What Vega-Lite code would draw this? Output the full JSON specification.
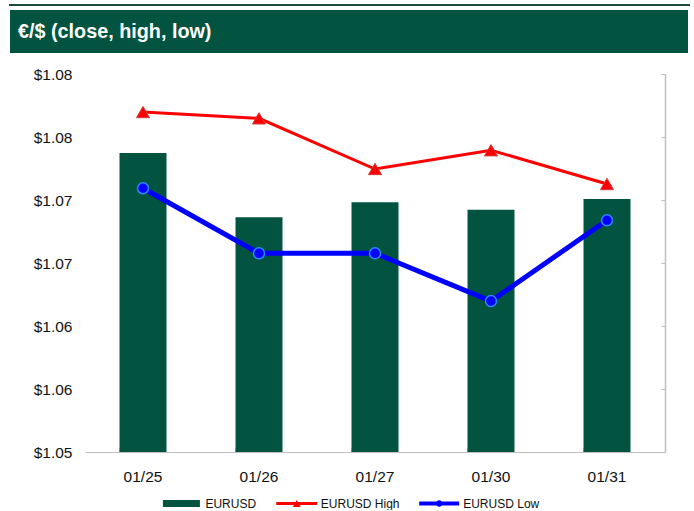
{
  "$schema": "https://vega.github.io/schema/vega-lite/v6.json",
  "background": "white",
  "padding": {"left": 9, "top": 4, "right": 0, "bottom": 0},
  "config": {"view": {"stroke": null}, "font": "Liberation Sans", "axis": {"grid": false}},
  "spacing": 14,
  "vconcat": [
    {
      "width": 603, "height": 49,
      "data": {"values": [{"title": "€/$ (close, high, low)"}]},
      "encoding": {
        "x": {"datum": -75, "type": "quantitative", "scale": {"domain": [0, 603], "nice": false, "zero": false}, "axis": null},
        "y": {"datum": 6, "type": "quantitative", "scale": {"domain": [49, 0], "nice": false, "zero": false}, "axis": null}
      },
      "layer": [
        {
          "mark": {"type": "rect", "color": "#1d4b3b"},
          "encoding": {"x": {"datum": -76}, "x2": {"datum": 605}, "y": {"datum": 0}, "y2": {"datum": 2}}
        },
        {
          "mark": {"type": "rect", "color": "#02533f"},
          "encoding": {"x2": {"datum": 603}, "y2": {"datum": 49}}
        },
        {
          "mark": {"type": "text", "align": "left", "baseline": "middle", "font": "Liberation Sans", "fontSize": 19.8, "fontWeight": "bold", "color": "#ffffff"},
          "encoding": {"text": {"field": "title"}, "x": {"datum": -67}, "y": {"datum": 28}}
        }
      ]
    },
    {
      "width": 580,
      "height": 378,
      "data": {"values": [
        {"date": "01/25", "close": 1.07373, "high": 1.07698, "low": 1.07093},
        {"date": "01/26", "close": 1.06863, "high": 1.07648, "low": 1.06577},
        {"date": "01/27", "close": 1.06982, "high": 1.07246, "low": 1.06577},
        {"date": "01/30", "close": 1.06923, "high": 1.07395, "low": 1.06198},
        {"date": "01/31", "close": 1.07008, "high": 1.07127, "low": 1.06839}
      ]},
      "encoding": {
        "x": {
          "field": "date", "type": "ordinal",
          "scale": {"paddingInner": 0.595, "paddingOuter": 0.2975},
          "axis": {"title": null, "labelAngle": 0, "labelFontSize": 15.5, "labelColor": "#111111", "labelPadding": 21,
                   "domainColor": "#bfbfbf", "domainWidth": 1.2, "tickColor": "#bfbfbf", "tickSize": -4, "bandPosition": 0}
        }
      },
      "layer": [
        {
          "mark": {"type": "bar"},
          "encoding": {
            "y": {
              "field": "close", "type": "quantitative",
              "scale": {"domain": [1.05, 1.08], "zero": false, "nice": false},
              "axis": {"orient": "left", "title": null, "values": [1.05, 1.055, 1.06, 1.065, 1.07, 1.075, 1.08],
                       "labelExpr": "'$' + format(datum.value + 1e-9, '.2f')",
                       "labelFontSize": 15.5, "labelColor": "#111111", "labelPadding": 13,
                       "ticks": false, "domain": false, "minExtent": 76, "maxExtent": 76}
            },
            "y2": {"datum": 1.05},
            "color": {
              "datum": "EURUSD",
              "scale": {"domain": ["EURUSD", "EURUSD High", "EURUSD Low"], "range": ["#02533f", "#ff0000", "#0000ff"]},
              "legend": {
                "orient": "none", "legendX": 76.4, "legendY": 479.5, "direction": "horizontal", "title": null,
                "padding": 0, "labelFontSize": 12, "labelColor": "#111111", "symbolSize": 1600,
                "labelOffset": 4, "columnPadding": 19.4,
                "encode": {
                  "symbols": {
                    "update": {
                      "shape": {"signal": "datum.value === 'EURUSD' ? 'M-0.925,-0.175H0.925V0.175H-0.925Z' : datum.value === 'EURUSD High' ? 'M-1.025,-0.075H1.025V0.075H-1.025Z M-0.2,0.175L0,-0.175L0.2,0.175Z' : 'M-1,-0.1H1V0.1H-1Z M-0.16,0A0.16,0.16,0,1,1,0.16,0A0.16,0.16,0,1,1,-0.16,0Z'"},
                      "fill": {"signal": "datum.value === 'EURUSD' ? '#02533f' : datum.value === 'EURUSD High' ? '#ff0000' : '#0000ff'"},
                      "stroke": {"value": "transparent"},
                      "strokeWidth": {"value": 0},
                      "opacity": {"value": 1}
                    }
                  }
                }
              }
            }
          }
        },
        {
          "mark": {"type": "line", "strokeWidth": 3},
          "encoding": {
            "y": {
              "field": "high", "type": "quantitative",
              "axis": {"orient": "right", "title": null, "labels": false, "values": [1.05, 1.055, 1.06, 1.065, 1.07, 1.075, 1.08],
                       "domainColor": "#bfbfbf", "domainWidth": 1.5, "tickColor": "#bfbfbf", "tickSize": -4}
            },
            "color": {"datum": "EURUSD High"}
          }
        },
        {
          "mark": {"type": "point", "shape": "triangle-up", "filled": true, "size": 170, "opacity": 1, "stroke": "#d23a3a", "strokeWidth": 1},
          "encoding": {
            "y": {"field": "high", "type": "quantitative", "axis": null},
            "color": {"datum": "EURUSD High"}
          }
        },
        {
          "mark": {"type": "line", "strokeWidth": 5},
          "encoding": {
            "y": {"field": "low", "type": "quantitative", "axis": null},
            "color": {"datum": "EURUSD Low"}
          }
        },
        {
          "mark": {"type": "point", "shape": "circle", "filled": true, "size": 120, "opacity": 1, "stroke": "#2e8bff", "strokeWidth": 1.5},
          "encoding": {
            "y": {"field": "low", "type": "quantitative", "axis": null},
            "color": {"datum": "EURUSD Low"}
          }
        }
      ],
      "resolve": {"axis": {"y": "independent"}}
    }
  ]
}
